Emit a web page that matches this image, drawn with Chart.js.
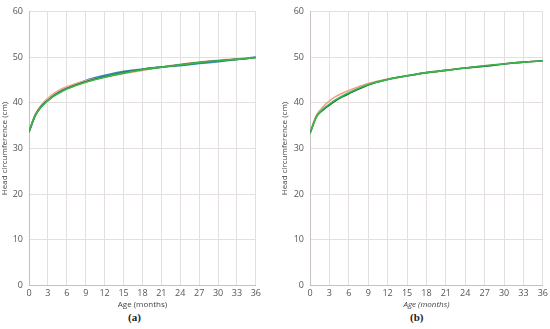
<!DOCTYPE html>
<html>
<head>
<meta charset="utf-8">
<script src="https://cdn.jsdelivr.net/npm/chart.js@4/dist/chart.umd.min.js"></script>
<style>
  body { margin: 0; background: #fff; width: 550px; height: 329px; position: relative; overflow: hidden; }
  .box { position: absolute; top: 0; height: 310px; }
  .lab { position: absolute; top: 311px; font: bold 11px "Liberation Serif", serif; color: #222; }
</style>
</head>
<body>
<div class="box" style="left:0; width:263px"><canvas id="chartA"></canvas></div>
<div class="box" style="left:280px; width:270px"><canvas id="chartB"></canvas></div>
<div class="lab" style="left:128px">(a)</div>
<div class="lab" style="left:410px">(b)</div>
<script>
// age in months
let ages = [0, 1, 2, 3, 4, 5, 6, 9, 12, 15, 18, 21, 24, 27, 30, 33, 36];

// panel (a)
let aBlue   = [33.6, 37.2, 39.2, 40.6, 41.7, 42.6, 43.3, 44.9, 46.0, 46.9, 47.4, 47.8, 48.1, 48.6, 49.0, 49.5, 50.0];
let aSalmon = [33.7, 37.5, 39.6, 41.0, 42.1, 42.9, 43.5, 44.8, 45.6, 46.4, 47.1, 47.8, 48.4, 48.9, 49.3, 49.6, 49.9];
let aDark   = [33.6, 37.3, 39.3, 40.5, 41.6, 42.4, 43.1, 44.6, 45.7, 46.6, 47.3, 47.8, 48.3, 48.8, 49.2, 49.5, 49.9];
let aGreen  = [33.7, 37.3, 39.2, 40.5, 41.5, 42.3, 43.0, 44.5, 45.6, 46.5, 47.3, 47.8, 48.3, 48.8, 49.2, 49.5, 49.9];

// panel (b)
let bSalmon = [33.4, 37.3, 39.1, 40.4, 41.4, 42.1, 42.7, 44.2, 45.2, 45.9, 46.6, 47.1, 47.6, 48.1, 48.5, 48.9, 49.2];
let bDark   = [33.3, 36.9, 38.4, 39.5, 40.5, 41.3, 42.0, 43.9, 45.1, 45.9, 46.6, 47.1, 47.6, 48.0, 48.5, 48.9, 49.2];
let bGreen  = [33.3, 37.0, 38.6, 39.7, 40.7, 41.5, 42.2, 44.0, 45.1, 45.9, 46.6, 47.1, 47.6, 48.1, 48.5, 48.9, 49.2];

let yTitle = "Head circumference (cm)";
let xTitle = "Age (months)";

// first dataset ends up on top in chart.js, so green goes first
function line(data, color) {
    return {
        data: ages.map((a, i) => ({ x: a, y: data[i] })),
        borderColor: color,
        borderWidth: 1.6,
        pointRadius: 0,
        fill: false,
        cubicInterpolationMode: 'monotone'
    }
}

function makeChart(id, sets, yWidth, italic) {
    return new Chart(document.getElementById(id), {
        type: 'line',
        data: { datasets: sets },
        options: {
            animation: false,
            responsive: true,
            maintainAspectRatio: false,
            plugins: { legend: { display: false }, tooltip: { enabled: false } },
            layout: { padding: { top: 6, right: 6 } },
            scales: {
                x: {
                    type: 'linear', min: 0, max: 36,
                    ticks: { stepSize: 3, color: '#555', font: { family: 'Open Sans', size: 9 }, padding: 2, maxRotation: 0 },
                    grid: { color: '#e4dede', drawTicks: false },
                    border: { color: '#c8c0c0' },
                    title: { display: true, text: xTitle, color: '#444', padding: 0,
                             font: { family: 'Open Sans', size: 8, style: italic ? 'italic' : 'normal' } }
                },
                y: {
                    min: 0, max: 60,
                    ticks: { stepSize: 10, color: '#555', font: { family: 'Open Sans', size: 9 }, padding: 6 },
                    grid: { color: '#e4dede', drawTicks: false },
                    border: { color: '#c8c0c0' },
                    title: { display: true, text: yTitle, color: '#444', padding: 0,
                             font: { family: 'Open Sans', size: 8 } },
                    afterFit: s => { s.width = yWidth }
                }
            }
        }
    });
}

makeChart('chartA', [
    line(aGreen, '#3cb54a'),
    line(aDark, '#0d6b3c'),
    line(aSalmon, '#f2a08a'),
    line(aBlue, '#3a86b8')
], 29, false);

makeChart('chartB', [
    line(bGreen, '#3cb54a'),
    line(bDark, '#0d6b3c'),
    line(bSalmon, '#f2a08a')
], 30, true);
</script>
</body>
</html>
